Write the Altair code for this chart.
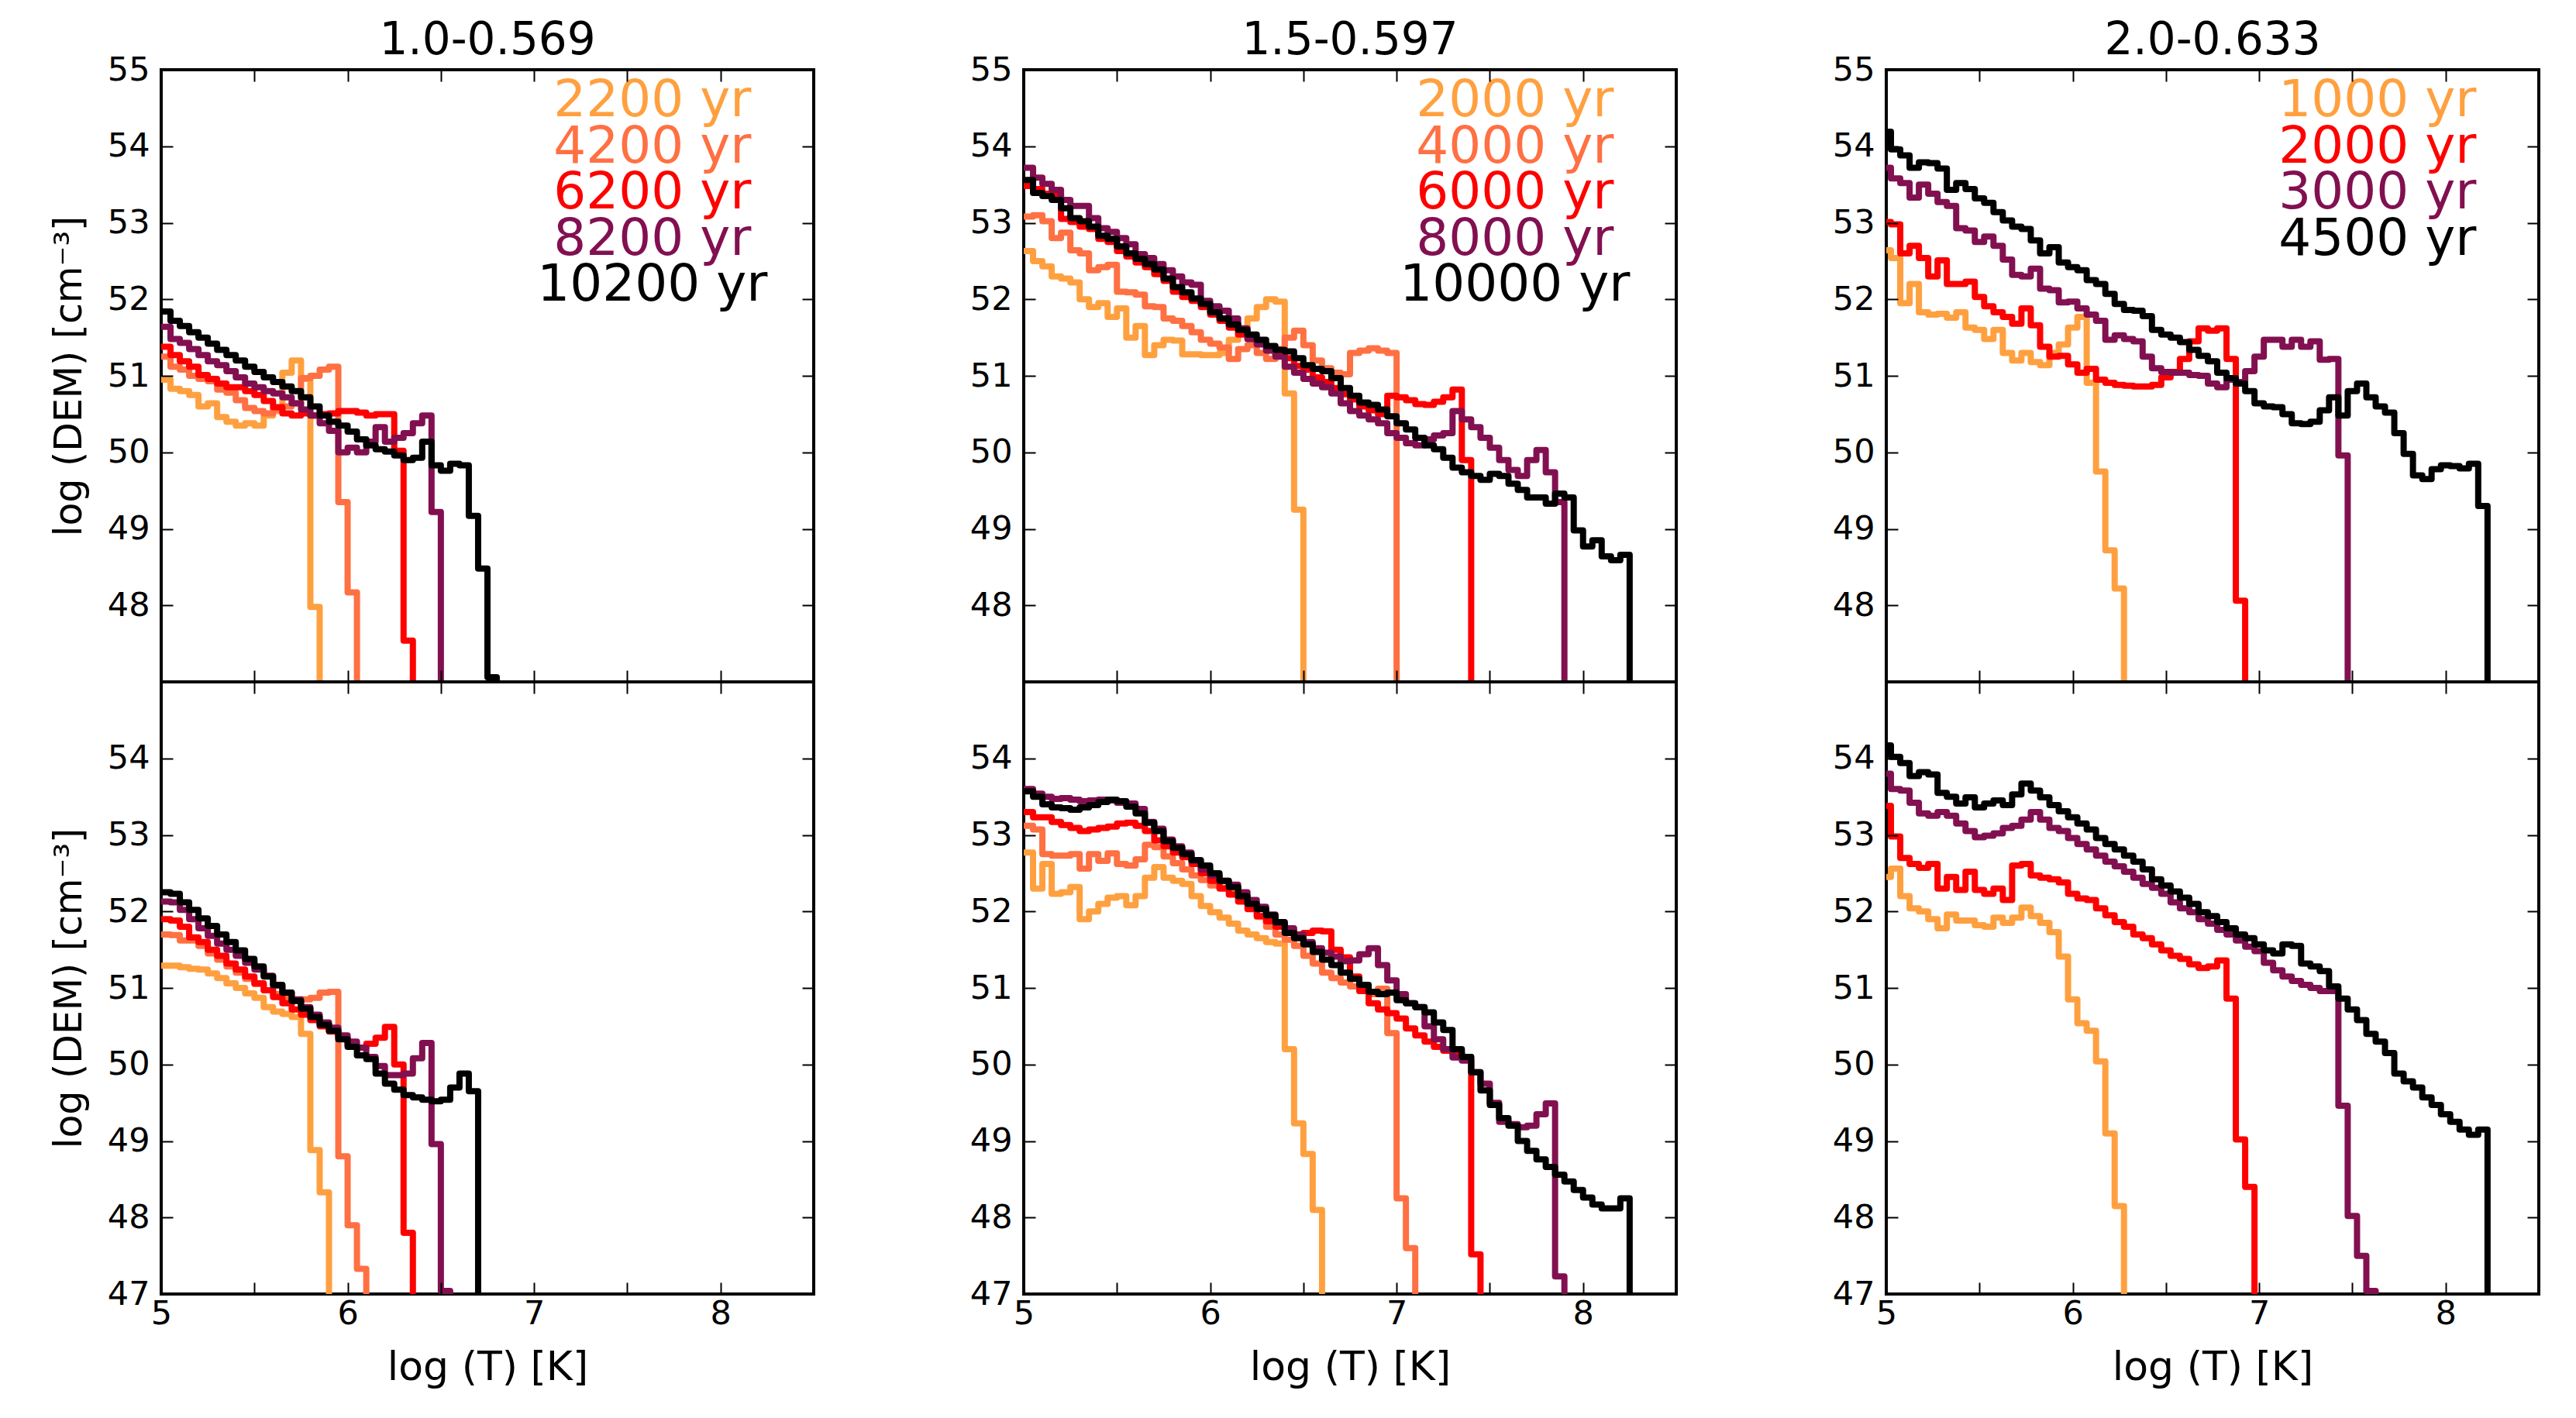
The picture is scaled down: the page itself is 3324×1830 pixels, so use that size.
import altair as alt
import pandas as pd

FONT = "DejaVu Sans"
BIN = 0.05          # log T bin width of the DEM histograms
FLOOR = 40.0        # empty bins (DEM = 0) fall below the plotted range
W, H = 842, 790

ORANGE, CORAL, RED, PURPLE, BLACK = "#ffa040", "#ff7043", "#ff0000", "#821050", "#000000"

titles = ["1.0-0.569", "1.5-0.597", "2.0-0.633"]
ages = [
    ["2200 yr", "4200 yr", "6200 yr", "8200 yr", "10200 yr"],
    ["2000 yr", "4000 yr", "6000 yr", "8000 yr", "10000 yr"],
    ["1000 yr", "2000 yr", "3000 yr", "4500 yr"],
]
colors = [
    [ORANGE, CORAL, RED, PURPLE, BLACK],
    [ORANGE, CORAL, RED, PURPLE, BLACK],
    [ORANGE, RED, PURPLE, BLACK],
]
x_start = [5.0, 5.0, 4.975]   # left edge of the first bin in each column

# ---------------- column 1 : 1.0-0.569 ----------------
c1t_2200 = [50.95, 50.83, 50.8, 50.75, 50.6, 50.64, 50.46, 50.4, 50.35, 50.38, 50.35, 50.48, 50.54, 51.04, 51.2, 50.96, 47.98]
c1t_4200 = [51.25, 51.12, 51.08, 51.0, 50.96, 50.93, 50.82, 50.78, 50.68, 50.58, 50.54, 50.51, 50.56, 50.6, 50.64, 50.97, 51.0, 51.08, 51.12, 49.35, 48.17]
c1t_6200 = [51.38, 51.27, 51.19, 51.12, 51.01, 50.96, 50.9, 50.85, 50.85, 50.8, 50.75, 50.67, 50.59, 50.51, 50.48, 50.51, 50.48, 50.5, 50.51, 50.54, 50.54, 50.52, 50.48, 50.5, 50.5, 50.02, 47.54]
c1t_8200 = [51.64, 51.48, 51.43, 51.35, 51.27, 51.19, 51.14, 51.06, 50.98, 50.9, 50.85, 50.8, 50.77, 50.72, 50.64, 50.56, 50.48, 50.38, 50.28, 50.0, 50.06, 50.0, 50.14, 50.33, 50.14, 50.19, 50.25, 50.38, 50.48, 49.22]
c1t_10200 = [51.84, 51.72, 51.65, 51.57, 51.5, 51.42, 51.34, 51.27, 51.2, 51.12, 51.05, 50.98, 50.92, 50.86, 50.8, 50.72, 50.6, 50.48, 50.4, 50.35, 50.27, 50.17, 50.09, 50.04, 50.01, 49.96, 49.9, 49.93, 50.14, 49.83, 49.76, 49.85, 49.83, 49.17, 48.48, 47.06]

c1b_2200 = [51.29, 51.29, 51.27, 51.25, 51.24, 51.19, 51.13, 51.06, 51.0, 50.93, 50.87, 50.75, 50.69, 50.66, 50.62, 50.4, 48.88, 48.33]
c1b_4200 = [51.7, 51.69, 51.62, 51.62, 51.55, 51.45, 51.37, 51.28, 51.2, 51.12, 51.05, 50.97, 50.92, 50.86, 50.83, 50.85, 50.87, 50.94, 50.95, 48.8, 47.9, 47.33]
c1b_6200 = [51.9, 51.88, 51.8, 51.66, 51.6, 51.5, 51.42, 51.32, 51.24, 51.15, 51.06, 50.97, 50.88, 50.8, 50.72, 50.65, 50.58, 50.5, 50.43, 50.35, 50.25, 50.22, 50.27, 50.35, 50.49, 50.0, 47.8]
c1b_8200 = [52.13, 52.12, 52.02, 51.9, 51.78, 51.68, 51.58, 51.5, 51.42, 51.33, 51.24, 51.16, 51.03, 50.94, 50.85, 50.75, 50.65, 50.55, 50.48, 50.38, 50.3, 50.22, 50.1, 49.98, 49.86, 49.86, 49.88, 50.08, 50.28, 48.96, 47.04]
c1b_10200 = [52.25, 52.23, 52.12, 52.02, 51.91, 51.81, 51.7, 51.6, 51.49, 51.38, 51.28, 51.15, 51.04, 50.94, 50.83, 50.73, 50.62, 50.52, 50.44, 50.33, 50.23, 50.12, 50.07, 49.88, 49.75, 49.67, 49.6, 49.57, 49.54, 49.52, 49.54, 49.7, 49.88, 49.65]

# ---------------- column 2 : 1.5-0.597 ----------------
c2t_2000 = [52.63, 52.5, 52.43, 52.3, 52.27, 52.22, 52.0, 51.9, 51.95, 51.77, 51.88, 51.5, 51.65, 51.27, 51.4, 51.47, 51.46, 51.28, 51.28, 51.27, 51.27, 51.3, 51.47, 51.6, 51.75, 51.9, 52.0, 51.97, 50.77, 49.25]
c2t_4000 = [53.08, 53.1, 53.02, 52.8, 52.87, 52.64, 52.6, 52.38, 52.42, 52.45, 52.1, 52.09, 52.06, 51.91, 51.9, 51.75, 51.72, 51.65, 51.57, 51.47, 51.42, 51.37, 51.22, 51.35, 51.4, 51.3, 51.22, 51.35, 51.5, 51.59, 51.4, 51.2, 51.1, 51.04, 51.02, 51.3, 51.33, 51.36, 51.33, 51.3]
c2t_6000 = [53.48, 53.44, 53.38, 53.37, 53.05, 53.01, 52.95, 52.92, 52.79, 52.75, 52.63, 52.56, 52.48, 52.42, 52.33, 52.24, 52.1, 52.03, 51.98, 51.9, 51.8, 51.72, 51.63, 51.54, 51.48, 51.42, 51.35, 51.27, 51.23, 51.13, 51.08, 50.98, 50.92, 50.84, 50.76, 50.69, 50.6, 50.55, 50.5, 50.74, 50.72, 50.68, 50.63, 50.62, 50.66, 50.72, 50.82, 49.9]
c2t_8000 = [53.72, 53.59, 53.51, 53.43, 53.3, 53.22, 53.22, 53.06, 52.93, 52.88, 52.8, 52.72, 52.59, 52.54, 52.46, 52.38, 52.3, 52.22, 52.19, 51.98, 51.91, 51.85, 51.75, 51.62, 51.48, 51.41, 51.33, 51.25, 51.12, 51.04, 50.96, 50.9, 50.85, 50.77, 50.64, 50.54, 50.48, 50.43, 50.38, 50.25, 50.19, 50.12, 50.09, 50.17, 50.22, 50.25, 50.54, 50.43, 50.33, 50.19, 50.06, 49.9, 49.77, 49.69, 49.9, 50.03, 49.74, 49.35]
c2t_10000 = [53.56, 53.39, 53.35, 53.3, 53.19, 53.06, 53.02, 52.95, 52.83, 52.79, 52.69, 52.6, 52.53, 52.46, 52.39, 52.27, 52.16, 52.09, 52.01, 51.94, 51.83, 51.75, 51.67, 51.6, 51.54, 51.47, 51.39, 51.34, 51.32, 51.23, 51.14, 51.09, 51.06, 50.97, 50.84, 50.74, 50.65, 50.62, 50.56, 50.47, 50.38, 50.3, 50.19, 50.09, 50.04, 49.93, 49.8, 49.74, 49.69, 49.64, 49.72, 49.69, 49.59, 49.51, 49.41, 49.41, 49.33, 49.46, 49.41, 48.98, 48.77, 48.85, 48.64, 48.59, 48.66]

c2b_2000 = [52.77, 52.3, 52.62, 52.23, 52.25, 52.32, 51.9, 52.0, 52.1, 52.18, 52.2, 52.08, 52.2, 52.44, 52.58, 52.44, 52.4, 52.36, 52.2, 52.07, 51.99, 51.92, 51.84, 51.75, 51.7, 51.65, 51.6, 51.58, 50.2, 49.23, 48.83, 48.1]
c2b_4000 = [53.12, 53.07, 52.75, 52.73, 52.73, 52.75, 52.56, 52.75, 52.66, 52.76, 52.62, 52.6, 52.68, 52.87, 52.84, 52.72, 52.63, 52.55, 52.47, 52.41, 52.34, 52.31, 52.29, 52.18, 52.1, 51.93, 51.8, 51.7, 51.63, 51.55, 51.42, 51.32, 51.2, 51.13, 51.07, 51.02, 50.96, 50.92, 50.99, 50.41, 48.25, 47.6]
c2b_6000 = [53.3, 53.23, 53.23, 53.17, 53.13, 53.09, 53.05, 53.07, 53.09, 53.11, 53.15, 53.16, 53.12, 53.05, 52.93, 52.85, 52.77, 52.71, 52.62, 52.5, 52.4, 52.3, 52.22, 52.13, 52.03, 51.94, 51.87, 51.8, 51.75, 51.68, 51.72, 51.75, 51.74, 51.5, 51.4, 51.15, 50.96, 50.8, 50.72, 50.67, 50.6, 50.47, 50.38, 50.3, 50.23, 50.18, 50.15, 50.1, 47.52]
c2b_8000 = [53.6, 53.54, 53.5, 53.47, 53.48, 53.46, 53.44, 53.45, 53.46, 53.45, 53.42, 53.41, 53.34, 53.17, 53.08, 52.94, 52.85, 52.77, 52.66, 52.55, 52.47, 52.4, 52.35, 52.25, 52.15, 52.06, 51.96, 51.85, 51.78, 51.7, 51.6, 51.52, 51.46, 51.41, 51.35, 51.36, 51.44, 51.52, 51.3, 51.1, 50.92, 50.8, 50.75, 50.5, 50.33, 50.2, 50.09, 50.05, 49.9, 49.75, 49.5, 49.25, 49.22, 49.18, 49.2, 49.35, 49.49, 47.23]
c2b_10000 = [53.57, 53.5, 53.4, 53.36, 53.35, 53.33, 53.36, 53.39, 53.43, 53.46, 53.44, 53.37, 53.28, 53.16, 53.05, 52.92, 52.83, 52.75, 52.67, 52.6, 52.5, 52.4, 52.32, 52.2, 52.1, 52.03, 51.95, 51.86, 51.72, 51.65, 51.57, 51.47, 51.37, 51.3, 51.2, 51.12, 51.04, 50.95, 50.92, 50.94, 50.84, 50.8, 50.75, 50.68, 50.55, 50.45, 50.2, 50.1, 49.9, 49.66, 49.47, 49.3, 49.2, 49.0, 48.87, 48.76, 48.66, 48.56, 48.47, 48.36, 48.26, 48.17, 48.12, 48.12, 48.25]

# ---------------- column 3 : 2.0-0.633 ----------------
c3t_1000 = [52.64, 52.54, 51.95, 52.2, 51.83, 51.8, 51.81, 51.76, 51.83, 51.63, 51.6, 51.48, 51.6, 51.3, 51.2, 51.3, 51.18, 51.14, 51.3, 51.41, 51.63, 51.77, 50.91, 49.75, 48.72, 48.22]
c3t_2000 = [53.01, 52.98, 52.6, 52.7, 52.54, 52.3, 52.51, 52.2, 52.2, 52.23, 52.03, 51.91, 51.83, 51.77, 51.68, 51.88, 51.66, 51.38, 51.25, 51.26, 51.15, 51.04, 51.09, 50.95, 50.91, 50.88, 50.87, 50.86, 50.86, 50.88, 50.98, 51.05, 51.22, 51.45, 51.62, 51.59, 51.62, 51.22, 48.06]
c3t_3000 = [53.72, 53.58, 53.52, 53.33, 53.5, 53.38, 53.27, 53.22, 52.93, 52.9, 52.75, 52.82, 52.7, 52.52, 52.32, 52.3, 52.4, 52.14, 52.12, 51.96, 51.97, 51.88, 51.8, 51.72, 51.47, 51.53, 51.48, 51.45, 51.25, 51.1, 51.05, 51.04, 51.04, 51.01, 51.0, 50.9, 50.85, 50.95, 50.92, 51.06, 51.25, 51.47, 51.47, 51.38, 51.47, 51.38, 51.45, 51.21, 51.22, 49.96]
c3t_4500 = [54.19, 53.96, 53.88, 53.72, 53.79, 53.78, 53.71, 53.43, 53.52, 53.44, 53.32, 53.26, 53.14, 53.03, 52.95, 52.92, 52.77, 52.6, 52.68, 52.48, 52.42, 52.38, 52.25, 52.2, 52.07, 51.94, 51.86, 51.85, 51.78, 51.6, 51.54, 51.5, 51.44, 51.34, 51.26, 51.19, 51.04, 50.97, 50.9, 50.8, 50.64, 50.6, 50.59, 50.5, 50.38, 50.37, 50.4, 50.55, 50.72, 50.48, 50.8, 50.9, 50.72, 50.6, 50.52, 50.25, 49.98, 49.7, 49.65, 49.78, 49.83, 49.82, 49.79, 49.85, 49.3]

c3b_1000 = [52.45, 52.56, 52.2, 52.04, 52.0, 51.9, 51.78, 51.96, 51.88, 51.88, 51.82, 51.8, 51.92, 51.85, 51.92, 52.05, 51.94, 51.85, 51.73, 51.41, 50.85, 50.54, 50.44, 50.04, 49.1, 48.15]
c3b_2000 = [53.38, 52.98, 52.7, 52.62, 52.57, 52.62, 52.3, 52.45, 52.28, 52.52, 52.28, 52.23, 52.3, 52.15, 52.6, 52.62, 52.47, 52.44, 52.42, 52.38, 52.23, 52.17, 52.15, 52.04, 51.95, 51.86, 51.8, 51.7, 51.65, 51.57, 51.49, 51.42, 51.38, 51.31, 51.26, 51.28, 51.36, 50.86, 49.02, 48.4]
c3b_3000 = [53.8, 53.6, 53.58, 53.42, 53.28, 53.25, 53.3, 53.25, 53.15, 53.05, 52.97, 52.99, 53.02, 53.09, 53.12, 53.2, 53.3, 53.2, 53.09, 53.05, 52.96, 52.88, 52.81, 52.73, 52.65, 52.59, 52.52, 52.44, 52.36, 52.31, 52.23, 52.12, 52.04, 51.99, 51.9, 51.84, 51.76, 51.7, 51.62, 51.54, 51.48, 51.33, 51.23, 51.15, 51.09, 51.04, 51.0, 50.96, 50.96, 49.46, 48.02, 47.5, 47.04]
c3b_4500 = [54.17, 54.02, 53.94, 53.77, 53.82, 53.79, 53.55, 53.5, 53.41, 53.49, 53.36, 53.41, 53.45, 53.39, 53.53, 53.67, 53.58, 53.49, 53.39, 53.31, 53.23, 53.15, 53.07, 52.96, 52.88, 52.81, 52.73, 52.65, 52.55, 52.42, 52.34, 52.26, 52.18, 52.1, 51.99, 51.94, 51.86, 51.78, 51.7, 51.65, 51.57, 51.49, 51.45, 51.57, 51.55, 51.32, 51.28, 51.22, 51.02, 50.86, 50.72, 50.58, 50.4, 50.3, 50.15, 49.88, 49.78, 49.7, 49.57, 49.47, 49.35, 49.25, 49.15, 49.08, 49.15]

series = {
    (0, 0): [c1t_2200, c1t_4200, c1t_6200, c1t_8200, c1t_10200],
    (0, 1): [c1b_2200, c1b_4200, c1b_6200, c1b_8200, c1b_10200],
    (1, 0): [c2t_2000, c2t_4000, c2t_6000, c2t_8000, c2t_10000],
    (1, 1): [c2b_2000, c2b_4000, c2b_6000, c2b_8000, c2b_10000],
    (2, 0): [c3t_1000, c3t_2000, c3t_3000, c3t_4500],
    (2, 1): [c3b_1000, c3b_2000, c3b_3000, c3b_4500],
}

XTICKS = [5.0, 5.5, 6.0, 6.5, 7.0, 7.5, 8.0, 8.5]
YTICKS_TOP = [48, 49, 50, 51, 52, 53, 54, 55]
YTICKS_BOT = [47, 48, 49, 50, 51, 52, 53, 54]

TICK = 15
LEG_X, LEG_Y0, LEG_DY = 7.635, 54.39, 0.603

common_axis = dict(
    domain=False, grid=False, tickSize=TICK, offset=-TICK, tickColor="black", tickWidth=2,
    labelFont=FONT, labelFontSize=43, labelColor="black", labelFlush=False, labelOverlap=False,
    titleFont=FONT, titleFontWeight="normal", titleColor="black", zindex=1,
)


def step_frame(values, x0):
    xs = [x0 + BIN * i for i in range(len(values) + 1)]
    ys = list(values) + [FLOOR]
    return pd.DataFrame({"x": xs, "y": ys})


def panel(c, r):
    xs = alt.Scale(domain=[5, 8.5], nice=False, zero=False)
    ys = alt.Scale(domain=[47, 55], nice=False, zero=False)

    xa = dict(common_axis, orient="bottom", values=XTICKS, labels=(r == 1), labelPadding=4,
              labelExpr="datum.value % 1 === 0 ? format(datum.value, 'd') : ''",
              titleFontSize=52, titlePadding=22)
    xa["title"] = "log (T) [K]" if (r == 1) else None
    ya = dict(common_axis, orient="left", values=(YTICKS_TOP if r == 0 else YTICKS_BOT),
              labelPadding=15, format="d", titleFontSize=49, titlePadding=24)
    ya["title"] = "log (DEM) [cm\u207b\u00b3]" if c == 0 else None
    xaxis = alt.Axis(**xa)
    yaxis = alt.Axis(**ya)

    layers = []
    for i, vals in enumerate(series[(c, r)]):
        col = colors[c][i]
        df = step_frame(vals, x_start[c])
        layers.append(
            alt.Chart(df).mark_line(interpolate="step-after", color=col, strokeWidth=8,
                                    strokeJoin="round", strokeCap="butt", clip=True)
            .encode(x=alt.X("x:Q", scale=xs, axis=xaxis), y=alt.Y("y:Q", scale=ys, axis=yaxis))
        )
    if r == 0:
        leg = pd.DataFrame({"label": ages[c], "color": colors[c], "i": list(range(len(ages[c])))})
        layers.append(
            alt.Chart(leg)
            .transform_calculate(tx=f"{LEG_X}", ty=f"{LEG_Y0} - {LEG_DY} * datum.i")
            .mark_text(font=FONT, fontSize=66, align="center", baseline="alphabetic")
            .encode(x=alt.X("tx:Q", scale=xs, axis=xaxis), y=alt.Y("ty:Q", scale=ys, axis=yaxis),
                    text="label:N", color=alt.Color("color:N", scale=None))
        )
    inner = alt.layer(*layers)

    mx = dict(common_axis, orient="top", values=XTICKS, labels=False, title=None)
    my = dict(common_axis, orient="right", values=(YTICKS_TOP if r == 0 else YTICKS_BOT), labels=False, title=None)
    mirror = alt.Chart(step_frame(series[(c, r)][-1], x_start[c])).mark_line(opacity=0, clip=True).encode(
        x=alt.X("x:Q", scale=xs, axis=alt.Axis(**mx)), y=alt.Y("y:Q", scale=ys, axis=alt.Axis(**my))
    )
    out = alt.layer(inner, mirror).resolve_axis(x="independent", y="independent").properties(width=W, height=H)
    if r == 0:
        out = out.properties(title=alt.TitleParams(text=titles[c], font=FONT, fontSize=58, fontWeight="normal",
                                                   color="black", anchor="middle", offset=-13))
    return out


columns = [alt.vconcat(panel(c, 0), panel(c, 1), spacing=0, bounds="flush") for c in range(3)]
chart = (
    alt.hconcat(*columns, spacing=196)
    .properties(padding={"left": 55, "top": 14, "right": 5, "bottom": 5})
    .configure(font=FONT)
    .configure_view(stroke="black", strokeWidth=4)
)
chart.save("out.html", embed_options={"renderer": "svg", "actions": False})
